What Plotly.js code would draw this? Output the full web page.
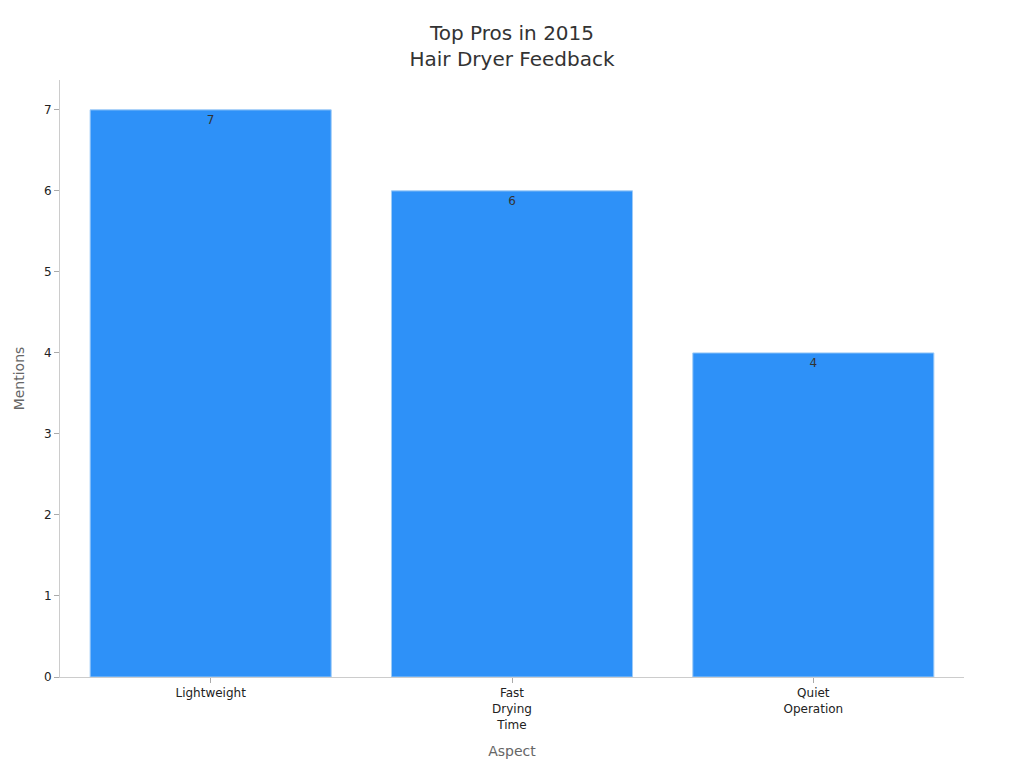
<!DOCTYPE html>
<html>
<head>
<meta charset="utf-8">
<script src="https://cdn.plot.ly/plotly-3.0.1.min.js"></script>
<style>
  html, body { margin: 0; padding: 0; background: #fff; }
  #chart { width: 1024px; height: 768px; }
</style>
</head>
<body>
<div id="chart"></div>
<script>
var aspects = ['Lightweight', 'Fast<br>Drying<br>Time', 'Quiet<br>Operation'];
var mentions = [7, 6, 4];

var trace = {
    x: aspects,
    y: mentions,
    type: 'bar',
    text: mentions.map(String),
    textposition: 'inside',
    insidetextanchor: 'end',
    textfont: { family: 'DejaVu Sans', size: 12, color: '#333333' },
    marker: {
        color: '#2E91F8',
        line: { color: '#9ECBF7', width: 1 }
    },
    hoverinfo: 'x+y'
};

var layout = {
    width: 1024,
    height: 768,
    font: { family: 'DejaVu Sans', color: '#222222' },
    title: {
        text: 'Top Pros in 2015<br>Hair Dryer Feedback',
        x: 0.5,
        xanchor: 'center',
        y: 0.948,
        yanchor: 'top',
        font: { family: 'DejaVu Sans', size: 20, color: '#333333' }
    },
    bargap: 0.2,
    showlegend: false,
    plot_bgcolor: '#ffffff',
    paper_bgcolor: '#ffffff',
    margin: { l: 60, r: 60, t: 80, b: 91 },
    xaxis: {
        title: { text: 'Aspect', font: { size: 14, color: '#666666' }, standoff: 15 },
        tickfont: { size: 12, color: '#222222' },
        showline: true,
        linecolor: '#cccccc',
        ticks: 'outside',
        tickcolor: '#aaaaaa',
        ticklen: 5,
        showgrid: false,
        zeroline: false
    },
    yaxis: {
        title: { text: 'Mentions', font: { size: 14, color: '#666666' }, standoff: 16 },
        tickfont: { size: 12, color: '#222222' },
        showline: true,
        linecolor: '#cccccc',
        ticks: 'outside',
        tickcolor: '#aaaaaa',
        ticklen: 5,
        dtick: 1,
        showgrid: false,
        zeroline: false
    }
};

Plotly.newPlot('chart', [trace], layout, { displayModeBar: false });
</script>
</body>
</html>
